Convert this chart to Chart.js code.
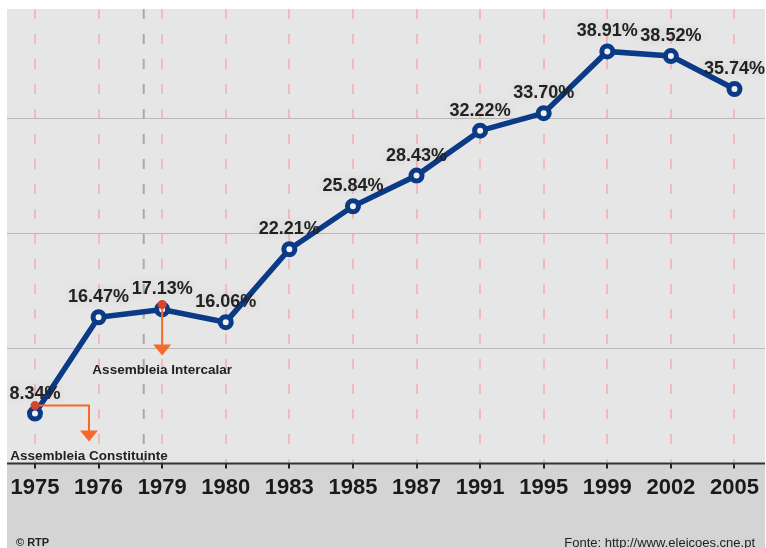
<!DOCTYPE html>
<html>
<head>
<meta charset="utf-8">
<script src="https://cdn.jsdelivr.net/npm/chart.js@4/dist/chart.umd.min.js"></script>
<style>
  body { margin: 0; background: #fff; }
  #wrap { width: 766px; height: 548px; position: relative; }
</style>
</head>
<body>
<div id="wrap"><canvas id="chart"></canvas></div>
<script>
/* ===== DATA ===== */
const years = ["1975", "1976", "1979", "1980", "1983", "1985", "1987", "1991", "1995", "1999", "2002", "2005"];
const shares = [8.34, 16.47, 17.13, 16.06, 22.21, 25.84, 28.43, 32.22, 33.7, 38.91, 38.52, 35.74];
const notes = [
  { index: 0, text: "Assembleia Constituinte" },
  { index: 2, text: "Assembleia Intercalar" },
];
const sourceText = "Fonte: http://www.eleicoes.cne.pt";
const creditText = "\u00a9 RTP";

/* ===== SCALE SETUP ===== */
const Y_MIN = 4.12;
const Y_MAX = 42.49;
const GRID_STEP = 9.7;
const DIVIDER_AT = 1.71; // grey dashed marker between 1976 and 1979

const FONT = "'Liberation Sans', Arial, sans-serif";
const NAVY = "#0b3a87";
const ORANGE = "#f5692c";

/* ===== PLUGINS ===== */
const backdrop = {
  id: "backdrop",
  beforeDraw(chart) {
    const { ctx, chartArea: a, width, height } = chart;
    ctx.save();
    ctx.fillStyle = "#fff";
    ctx.fillRect(0, 0, width, height);
    ctx.fillStyle = "#e6e6e6";
    ctx.fillRect(a.left, a.top, a.right - a.left, a.bottom - a.top);
    ctx.fillStyle = "#d4d4d4";
    ctx.fillRect(a.left, a.bottom, a.right - a.left, height - a.bottom);
    ctx.restore();
  },
  beforeDatasetsDraw(chart) {
    const { ctx, chartArea: a } = chart;
    const x = chart.scales.x.getPixelForValue(DIVIDER_AT);
    ctx.save();
    ctx.strokeStyle = "#a9a9a9";
    ctx.lineWidth = 2;
    ctx.setLineDash([10, 15]);
    ctx.beginPath();
    ctx.moveTo(x, a.top);
    ctx.lineTo(x, a.bottom);
    ctx.stroke();
    // solid axis line
    ctx.setLineDash([]);
    ctx.strokeStyle = "#333";
    ctx.beginPath();
    ctx.moveTo(a.left, a.bottom);
    ctx.lineTo(a.right, a.bottom);
    ctx.stroke();
    ctx.restore();
  },
};

const labels = {
  id: "labels",
  afterDatasetsDraw(chart) {
    const { ctx, chartArea: a, height } = chart;
    const pts = chart.getDatasetMeta(0).data;
    ctx.save();

    // value labels
    ctx.font = "bold 18px " + FONT;
    ctx.textAlign = "center";
    ctx.textBaseline = "middle";
    ctx.fillStyle = "#222";
    ctx.shadowColor = "rgba(0,0,0,0.12)";
    ctx.shadowBlur = 10;
    pts.forEach((p, i) => {
      ctx.fillText(shares[i].toFixed(2) + "%", p.x, p.y - 20);
    });
    ctx.shadowBlur = 0;
    ctx.shadowColor = "transparent";

    // annotations
    notes.forEach((n, k) => {
      const p = pts[n.index];
      const dotY = p.y - (k === 0 ? 8 : 5);
      const ax = k === 0 ? p.x + 54 : p.x;
      const tip = k === 0 ? p.y + 28 : p.y + 46;

      ctx.strokeStyle = ORANGE;
      ctx.lineWidth = 2;
      ctx.beginPath();
      ctx.moveTo(p.x, dotY);
      ctx.lineTo(ax, dotY);
      ctx.lineTo(ax, tip - 10);
      ctx.stroke();

      ctx.fillStyle = ORANGE;
      ctx.beginPath();
      ctx.moveTo(ax - 9, tip - 11);
      ctx.lineTo(ax + 9, tip - 11);
      ctx.lineTo(ax, tip);
      ctx.closePath();
      ctx.fill();

      ctx.fillStyle = "#d4452a";
      ctx.beginPath();
      ctx.arc(p.x, dotY, 4.5, 0, Math.PI * 2);
      ctx.fill();

      ctx.fillStyle = "#222";
      ctx.font = "bold 13.5px " + FONT;
      ctx.fillText(n.text, ax, tip + 15);
    });

    // footer
    ctx.textBaseline = "alphabetic";
    ctx.fillStyle = "#222";
    ctx.textAlign = "left";
    ctx.font = "bold 11px " + FONT;
    ctx.fillText(creditText, 16, height - 2);
    ctx.textAlign = "right";
    ctx.font = "13px " + FONT;
    ctx.fillText(sourceText, a.right - 10, height - 1);
    ctx.restore();
  },
};

/* ===== CHART ===== */
new Chart(document.getElementById("chart"), {
  type: "line",
  data: {
    datasets: [
      {
        data: shares.map((v, i) => ({ x: i, y: v })),
        borderColor: NAVY,
        borderWidth: 5.5,
        pointRadius: 5.5,
        pointBorderWidth: 5,
        pointBorderColor: NAVY,
        pointBackgroundColor: "#f2f0f0",
        tension: 0,
      },
    ],
  },
  options: {
    responsive: true,
    maintainAspectRatio: false,
    animation: false,
    layout: { autoPadding: false, padding: { left: 7, right: 1, top: 9, bottom: 41 } },
    plugins: { legend: { display: false }, tooltip: { enabled: false } },
    scales: {
      x: {
        type: "linear",
        min: -0.44,
        max: 11.48,
        afterBuildTicks: (s) => {
          s.ticks = years.map((_, i) => ({ value: i }));
        },
        afterFit: (s) => {
          // labels fit inside the offsets; drop the extra side padding
          s.paddingLeft = 0;
          s.paddingRight = 0;
          if (s._margins) {
            s._margins.left = 7;
            s._margins.right = 1;
          }
        },
        ticks: {
          callback: (v) => years[v],
          font: { family: FONT, size: 22, weight: "bold" },
          color: "#1a1a1a",
          padding: 6,
          maxRotation: 0,
          autoSkip: false,
        },
        grid: {
          color: "#efbcbc",
          lineWidth: 2,
          tickLength: 5,
          tickColor: "#222",
          tickBorderDash: [],
        },
        border: { display: false, dash: [10, 15] },
      },
      y: {
        min: Y_MIN,
        max: Y_MAX,
        afterBuildTicks: (s) => {
          s.ticks = [0, 1, 2, 3].map((k) => ({ value: Y_MIN + k * GRID_STEP }));
        },
        afterFit: (s) => {
          s.width = 0;
        },
        ticks: { display: false },
        grid: { color: "#b9b9b9", lineWidth: 1, drawTicks: false },
        border: { display: false },
      },
    },
  },
  plugins: [backdrop, labels],
});
</script>
</body>
</html>
